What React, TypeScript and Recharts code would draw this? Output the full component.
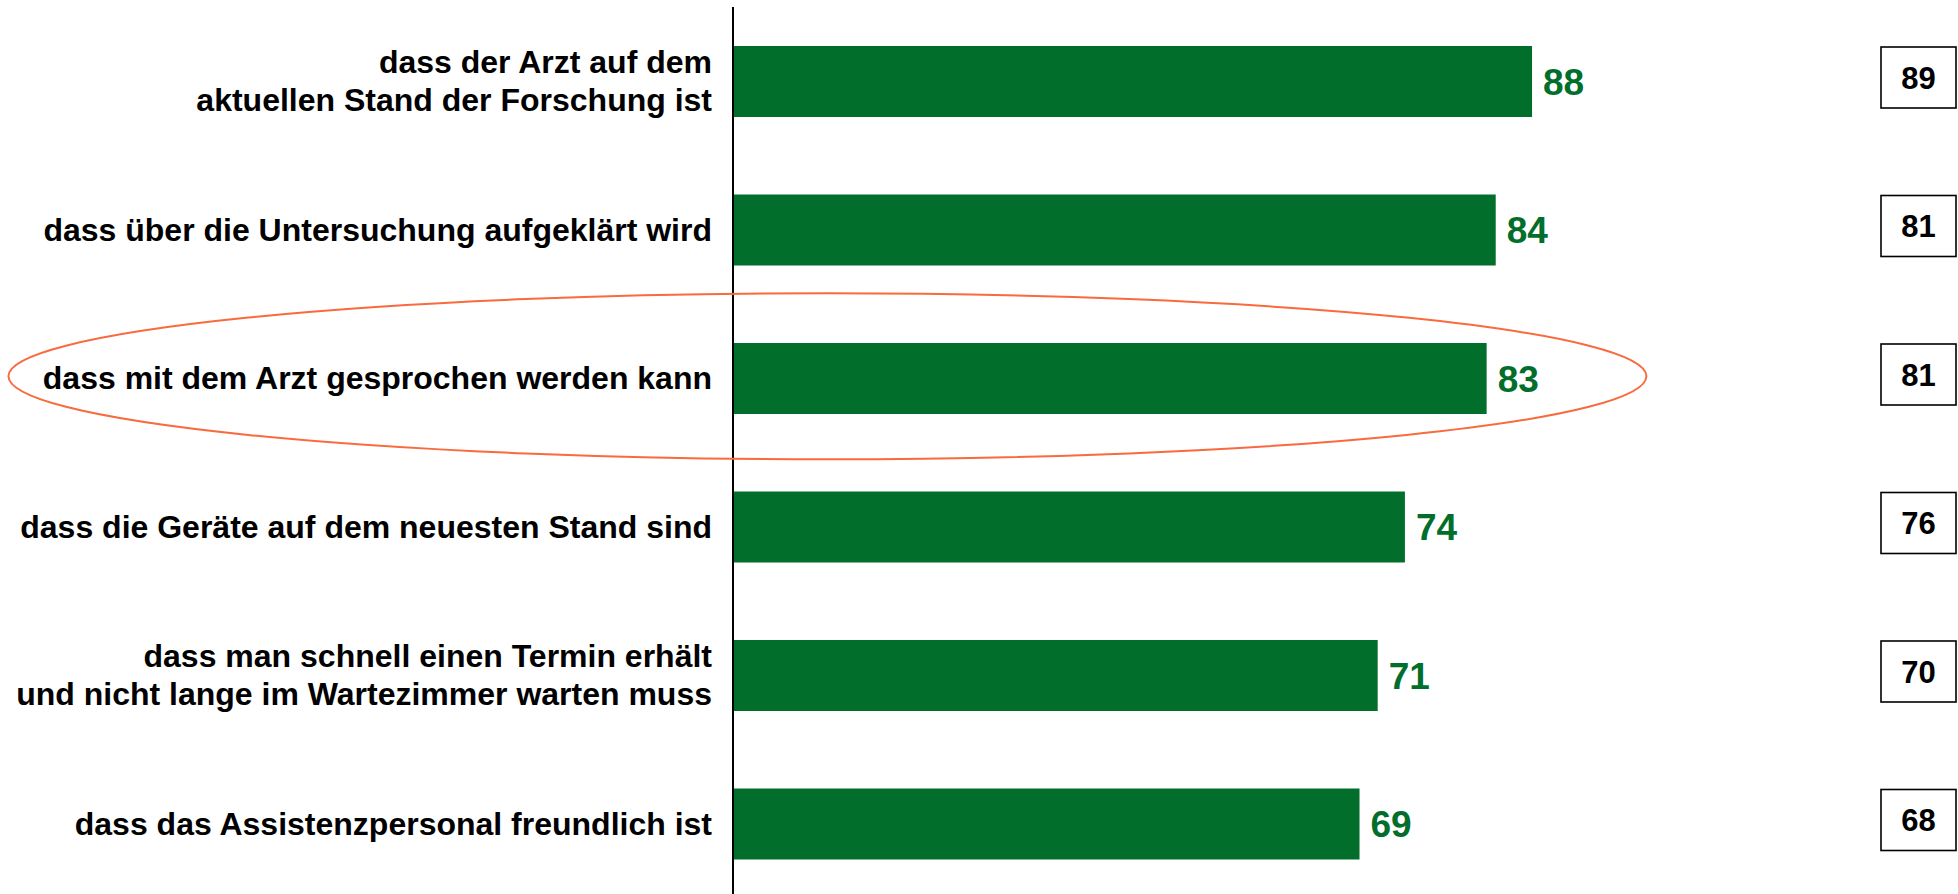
import React from 'react';
import { BarChart, Bar, XAxis, YAxis, LabelList, ReferenceDot } from 'recharts';

const categories: string[][] = [
  ['dass der Arzt auf dem', 'aktuellen Stand der Forschung ist'],
  ['dass über die Untersuchung aufgeklärt wird'],
  ['dass mit dem Arzt gesprochen werden kann'],
  ['dass die Geräte auf dem neuesten Stand sind'],
  ['dass man schnell einen Termin erhält', 'und nicht lange im Wartezimmer warten muss'],
  ['dass das Assistenzpersonal freundlich ist'],
];
const currentValues = [88, 84, 83, 74, 71, 69];
const previousValues = [89, 81, 81, 76, 70, 68];
const highlightedIndex = 2;

const data = categories.map((lines, i) => ({
  name: lines.join(' '),
  lines,
  value: currentValues[i],
  prev: previousValues[i],
}));

const CHART_W = 1958;
const CHART_H = 898;
const GREEN = '#016E2C';
const FONT = '"Liberation Sans", Arial, Helvetica, sans-serif';

const CategoryTick = (props: any) => {
  const { x, y, index } = props;
  const lines: string[] = data[index]?.lines ?? [];
  const lh = 38;
  const start = -((lines.length - 1) * lh) / 2;
  return (
    <text x={x} y={y} textAnchor="end" fontFamily={FONT} fontWeight="bold" fontSize={32} fill="#000">
      {lines.map((l, i) => (
        <tspan key={i} x={x} y={y + start + i * lh} dy="0.35em">{l}</tspan>
      ))}
    </text>
  );
};

const PrevBox = (props: any) => {
  const { y, height, value } = props;
  const cy = y + height / 2 - 4;
  const bw = 75;
  const bh = 61;
  const bx = CHART_W - 77;
  return (
    <g>
      <rect x={bx} y={cy - bh / 2} width={bw} height={bh} fill="#fff" stroke="#000" strokeWidth={1.6} />
      <text x={bx + bw / 2} y={cy} dy="0.36em" textAnchor="middle" fontFamily={FONT} fontWeight="bold" fontSize={31} fill="#000">
        {value}
      </text>
    </g>
  );
};

const EllipseShape = (props: any) => {
  const { cx, cy } = props;
  return <ellipse cx={cx} cy={cy - 2} rx={819} ry={83} fill="none" stroke="#F96A3E" strokeWidth={2} />;
};

export default function App() {
  return (
    <div style={{ position: 'absolute', left: 0, top: 0, width: CHART_W, height: 894, overflow: 'hidden', background: '#fff' }}>
      <BarChart
        width={CHART_W}
        height={CHART_H}
        data={data}
        layout="vertical"
        margin={{ top: 7, right: 317, bottom: 0, left: 0 }}
      >
        <XAxis type="number" domain={[0, 100]} hide />
        <YAxis
          type="category"
          dataKey="name"
          width={733}
          axisLine={{ stroke: '#000', strokeWidth: 2 }}
          tickLine={false}
          tick={<CategoryTick />}
          tickMargin={15}
          interval={0}
        />
        <ReferenceDot
          x={10.4}
          y={data[highlightedIndex].name}
          ifOverflow="visible"
          shape={<EllipseShape />}
        />
        <Bar dataKey="value" fill={GREEN} barSize={71} isAnimationActive={false}>
          <LabelList
            dataKey="value"
            position="right"
            offset={11}
            fill={GREEN}
            fontFamily={FONT}
            fontWeight="bold"
            fontSize={37}
          />
          <LabelList dataKey="prev" content={<PrevBox />} />
        </Bar>
      </BarChart>
    </div>
  );
}
